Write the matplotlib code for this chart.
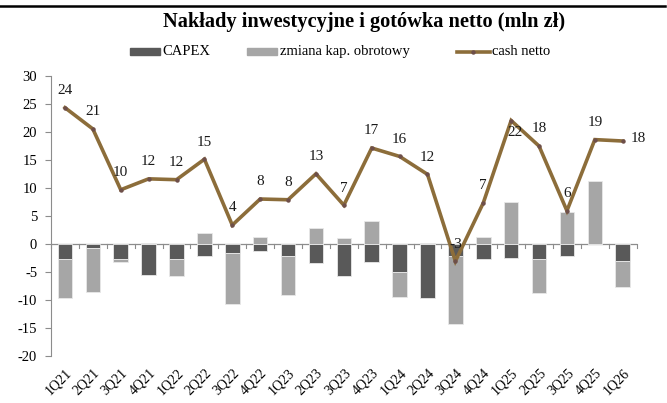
import matplotlib
matplotlib.use("Agg")
import matplotlib.pyplot as plt
import numpy as np
from matplotlib.lines import Line2D

categories = ["1Q21", "2Q21", "3Q21", "4Q21", "1Q22", "2Q22", "3Q22", "4Q22",
              "1Q23", "2Q23", "3Q23", "4Q23", "1Q24", "2Q24", "3Q24", "4Q24",
              "1Q25", "2Q25", "3Q25", "4Q25", "1Q26"]
capex = [-2.6, -0.6, -2.6, -5.5, -2.6, -2.15, -1.6, -1.2, -2.1, -3.4, -5.6,
         -3.2, -4.95, -9.65, -2.0, -2.6, -2.5, -2.6, -2.0, 0.0, -2.9]
zmiana_kap = [-7.05, -7.85, -0.55, 0.2, -3.05, 2.1, -9.0, 1.4, -7.0, 2.85, 1.1,
              4.1, -4.45, 0.2, -12.2, 1.4, 7.5, -6.0, 5.8, 11.25, -4.7]
cash_netto = [24.4, 20.6, 9.75, 11.7, 11.55, 15.2, 3.45, 8.1, 7.97, 12.6, 7.0,
              17.2, 15.7, 12.5, -3.0, 7.4, 22.1, 17.55, 6.0, 18.7, 18.45]
cash_labels = ["24", "21", "10", "12", "12", "15", "4", "8", "8", "13", "7",
               "17", "16", "12", "-3", "7", "22", "18", "6", "19", "18"]

DARK = "#595959"
LIGHT = "#a6a6a6"
LINE = "#8c6d3a"
SERIF = ["Liberation Serif", "DejaVu Serif"]

fig = plt.figure(figsize=(6.67, 4.03), dpi=100)
ax = fig.add_axes([0.0765, 0.1154, 0.878, 0.6953])

x = np.arange(len(categories))
capex_a = np.array(capex)
wc_a = np.array(zmiana_kap)
wc_bottom = np.where(wc_a >= 0, np.where(capex_a >= 0, capex_a, 0), np.where(capex_a < 0, capex_a, 0))

w = 0.52
ax.bar(x, capex_a, width=w, color=DARK, edgecolor="#e8e8e8", linewidth=0.6, zorder=2)
ax.bar(x, wc_a, width=w, bottom=wc_bottom, color=LIGHT, edgecolor="#e8e8e8", linewidth=0.6, zorder=2)
ax.plot(x, cash_netto, color=LINE, linewidth=2.6, zorder=3, solid_joinstyle="miter")
ax.plot(x, cash_netto, linestyle="none", marker="o", markersize=2.2, color="#6e4f4a", zorder=4)

LBL = dict(fontsize=11, family=SERIF, color="#1a1a1a", zorder=5)
for xi, v, lab in zip(x, cash_netto, cash_labels):
    if xi == 16:
        ax.text(xi + 0.15, v - 1.0, lab, ha="center", va="top", **LBL)
    elif xi == len(categories) - 1:
        ax.text(xi + 0.3, v + 0.4, lab, ha="left", va="center", **LBL)
    else:
        ax.text(xi, v + 1.9, lab, ha="center", va="bottom", **LBL)

ax.set_xlim(-0.5, len(categories) - 0.5)
ax.set_ylim(-20, 30)
ax.set_yticks(np.arange(-20, 31, 5))
ax.set_yticklabels([str(v) for v in range(-20, 31, 5)], family=SERIF, fontsize=10.5)

ax.set_xticks(x)
ax.set_xticklabels(categories, rotation=45, ha="right", va="top", rotation_mode="anchor",
                   family=SERIF, fontsize=10)
ax.tick_params(axis="x", length=0, pad=7)
ax.tick_params(axis="y", length=4, color="#8c8c8c", width=0.8, pad=6)

for s in ("top", "right", "bottom"):
    ax.spines[s].set_visible(False)
ax.spines["left"].set_color("#8c8c8c")
ax.spines["left"].set_linewidth(0.8)

ax.axhline(0, color="#8c8c8c", linewidth=0.9, zorder=1)
for b in np.arange(-0.5, len(categories) + 0.5, 1.0):
    ax.plot([b, b], [0, -0.6], color="#8c8c8c", linewidth=0.8, zorder=1, clip_on=False)

fig.text(0.546, 0.946, "Nakłady inwestycyjne i gotówka netto (mln zł)", ha="center", va="center",
         fontsize=14.7, fontweight="bold", family=SERIF)

fig.add_artist(Line2D([0.0, 0.997], [0.985, 0.985], color="black", linewidth=1.8, transform=fig.transFigure))

ly = 1 - 51.7 / 403
LEG = dict(ha="left", va="center", fontsize=10.5, family=SERIF)
fig.patches.append(matplotlib.patches.Rectangle((130 / 667, ly - 0.009), 30 / 667, 0.018,
                   transform=fig.transFigure, color=DARK))
fig.text(162 / 667, ly, "CAPEX", **LEG)
fig.patches.append(matplotlib.patches.Rectangle((246.7 / 667, ly - 0.009), 30 / 667, 0.018,
                   transform=fig.transFigure, color=LIGHT))
fig.text(280 / 667, ly, "zmiana kap. obrotowy", **LEG)
fig.add_artist(Line2D([456.7 / 667, 490 / 667], [ly, ly], color=LINE, linewidth=2.6, transform=fig.transFigure))
fig.add_artist(Line2D([473.3 / 667], [ly], color="#6e4f4a", marker="o", markersize=2.2, transform=fig.transFigure))
fig.text(492 / 667, ly, "cash netto", **LEG)

fig.savefig("out.png", dpi=100)
